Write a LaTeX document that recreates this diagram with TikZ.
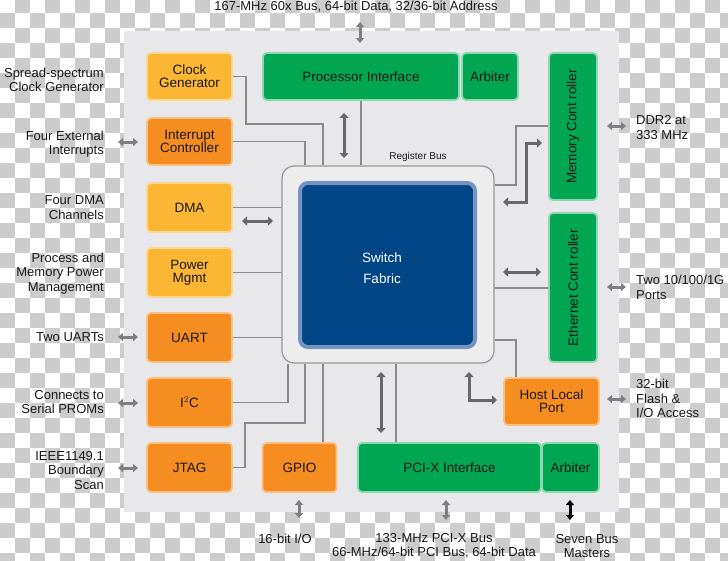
\documentclass[tikz,border=0pt]{standalone}
\usepackage{graphicx}
\usepackage{fontspec}
\setmainfont{Liberation Sans}
\usetikzlibrary{arrows.meta,calc}
\definecolor{chkgray}{RGB}{204,204,204}
\definecolor{panel}{RGB}{232,232,234}
\definecolor{clkyellow}{RGB}{251,182,52}
\definecolor{ctlorange}{RGB}{246,141,32}
\definecolor{busgreen}{RGB}{0,166,81}
\definecolor{fabblue}{RGB}{0,69,134}
\definecolor{fabedge}{RGB}{118,146,192}
\definecolor{wiregray}{RGB}{138,138,138}
\definecolor{arrgray}{RGB}{104,104,104}
\definecolor{txt}{RGB}{25,25,25}

\begin{document}
\begin{tikzpicture}[x=1pt, y=-1pt,
  blk/.style={rounded corners=4pt, line width=1.8pt, align=center, text=txt, inner sep=0pt,
              font=\fontsize{13.5}{13}\selectfont},
  blksize/.style 2 args={minimum width=#1pt, minimum height=#2pt},
  yelblk/.style={blk, fill=clkyellow, draw=clkyellow!55},
  orgblk/.style={blk, fill=ctlorange, draw=ctlorange!55},
  grnblk/.style={blk, fill=busgreen, draw=busgreen!45},
  wire/.style={draw=wiregray, line width=1.1pt},
  busarrow/.style={draw=arrgray, line width=3pt, {Triangle[length=5pt,width=9pt]}-{Triangle[length=5pt,width=9pt]}},
  extarrow/.style={draw=arrgray!85, line width=3pt, {Triangle[length=5pt,width=8pt]}-{Triangle[length=5pt,width=8pt]}},
  lbl/.style={font=\fontsize{13}{14.5}\selectfont, inner sep=0pt, text=txt}]
  \useasboundingbox (0,0) rectangle (728,560);
  % ================================================================== background
  \fill[white] (0,0) rectangle (728,560);
  \foreach \i in {0,...,48} \foreach \j in {0,...,37} {
    \pgfmathtruncatemacro\k{mod(\i+\j,2)}
    \ifnum\k=1 \fill[chkgray] (15*\i,15*\j-2) rectangle ++(15,15); \fi
  }
  \fill[panel] (124,31) rectangle (619,512);
  % ================================================================== switch fabric
  \node[rounded corners=12pt, fill=panel!80!white, draw=wiregray!90, line width=1.2pt,
        blksize={212}{197}] (sw) at (388,264.5) {};
  \node[rounded corners=8pt, fill=fabblue, draw=fabedge, line width=4pt, blksize={175}{164}] (fab) at (387.5,265) {};
  \node[text=white, align=center, font=\fontsize{13.5}{21}\selectfont] (fabtxt) at (382,268) {Switch\\ Fabric};
  \node[font=\fontsize{10}{12}\selectfont, text=txt] (regbus) at (418,157) {Register Bus};
  % ================================================================== blocks
  \node[yelblk, blksize={85}{47}] (clk) at (189.5,76.5) {Clock\\Generator};
  \node[orgblk, blksize={85}{47}] (irq) at (189.5,141.5) {Interrupt\\Controller};
  \node[yelblk, blksize={85}{49}] (dma) at (189.5,207.5) {DMA};
  \node[yelblk, blksize={85}{49}] (pwr) at (189.5,272.5) {Power\\Mgmt};
  \node[orgblk, blksize={85}{49}] (uart) at (189.5,337.5) {UART};
  \node[orgblk, blksize={85}{49}] (iic) at (189.5,402.5) {I$^2$C};
  \node[orgblk, blksize={85}{49}] (jtag) at (189.5,467.5) {JTAG};
  \node[orgblk, blksize={74}{49}] (gpio) at (299.5,467.5) {GPIO};
  \node[grnblk, blksize={183}{49}] (pcix) at (449.5,467.5) {PCI-X Interface};
  \node[grnblk, blksize={57}{49}] (arbb) at (570.5,467.5) {Arbiter};
  \node[grnblk, blksize={196}{47}] (proc) at (361,76.5) {Processor Interface};
  \node[grnblk, blksize={56}{47}] (arbt) at (490,76.5) {Arbiter};
  \node[grnblk, blksize={48}{147}] (mem) at (573,126.5) {\rotatebox{90}{Memory Cont roller}};
  \node[grnblk, blksize={48}{149}] (eth) at (573,287.5) {\rotatebox{90}{Ethernet Cont roller}};
  \node[orgblk, blksize={95}{47}] (host) at (551.5,401.5) {Host Local\\Port};
  % ================================================================== register bus wires
  \draw[wire] (clk.east) -| (246,124) -| (323,0 |- sw.north);
  \draw[wire] (irq.east) -| (305,0 |- sw.north);
  \draw[wire] (proc.south) -- (proc.south |- sw.north);
  \foreach \b in {dma,pwr,uart} \draw[wire] (\b.east) -- (\b.east -| sw.west);
  \draw[wire] (iic.east) -| (288,0 |- sw.south);
  \draw[wire] (jtag.east) -| (245,423) -| (305,0 |- sw.south);
  \draw[wire] (323,0 |- gpio.north) -- (323,0 |- sw.south);
  \draw[wire] (396,0 |- pcix.north) -- (396,0 |- sw.south);
  \draw[wire] (sw.east |- 0,185) -| (516,126) -- (mem.west |- 0,126);
  \draw[wire] (sw.east |- 0,288) -- (eth.west |- 0,288);
  \draw[wire] (sw.east |- 0,340) -| (516,0 |- host.north);
  % ================================================================== data paths
  \draw[busarrow] (344,113) -- (344,158);
  \draw[busarrow] (242,221) -- (273,221);
  \draw[busarrow] (503,202) -| (526,143) -- (542,143);
  \draw[busarrow] (503,272) -- (541,272);
  \draw[busarrow] (469,372) |- (497,400);
  \draw[busarrow] (381,372) -- (381,433);
  % ================================================================== external pins
  \draw[extarrow] (360,22) -- (360,43);
  \foreach \y in {142,337,403,468} \draw[extarrow] (118,\y) -- (138,\y);
  \foreach \y in {126,287,399} \draw[extarrow] (607,\y) -- (626,\y);
  \draw[extarrow] (299,500) -- (299,518);
  \draw[extarrow] (446,500) -- (446,520);
  \draw[extarrow, draw=black] (570,500) -- (570,520);
  % ================================================================== labels
  \node[lbl] (ttl) at (356,7) {167-MHz 60x Bus, 64-bit Data, 32/36-bit Address};
  \node[lbl, anchor=east, align=right] (lclk) at (104,80) {Spread-spectrum\\Clock Generator};
  \node[lbl, anchor=east, align=right] (lirq) at (104,144) {Four External\\Interrupts};
  \node[lbl, anchor=east, align=right] (ldma) at (104,207.5) {Four DMA\\Channels};
  \node[lbl, anchor=east, align=right] (lpwr) at (104,273.5) {Process and\\Memory Power\\Management};
  \node[lbl, anchor=east, align=right] (luart) at (104,337) {Two UARTs};
  \node[lbl, anchor=east, align=right] (liic) at (104,402) {Connects to\\Serial PROMs};
  \node[lbl, anchor=east, align=right] (ljtag) at (104,470.5) {IEEE1149.1\\Boundary\\Scan};
  \node[lbl, anchor=west, align=left] (lmem) at (636,127.5) {DDR2 at\\333 MHz};
  \node[lbl, anchor=west, align=left] (leth) at (636,287.5) {Two 10/100/1G\\Ports};
  \node[lbl, anchor=west, align=left] (lhost) at (636,398.5) {32-bit\\Flash \&\\I/O Access};
  \node[lbl] (lgpio) at (285,539) {16-bit I/O};
  \node[lbl, align=center] (lpci) at (434,546) {133-MHz PCI-X Bus\\66-MHz/64-bit PCI Bus, 64-bit Data};
  \node[lbl, align=center] (larb) at (587,546) {Seven Bus\\Masters};
\end{tikzpicture}
\end{document}
